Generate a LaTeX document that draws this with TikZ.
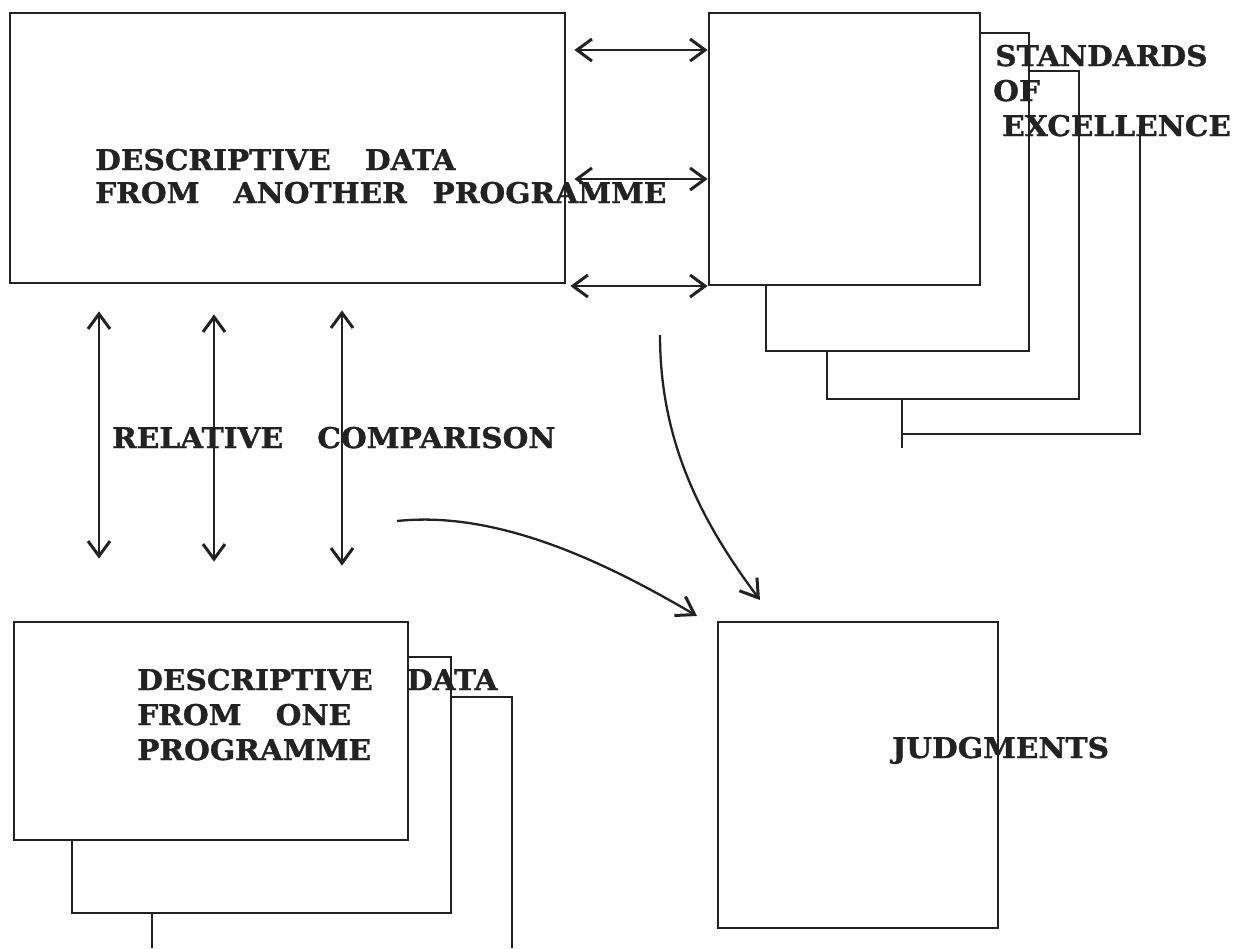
\documentclass[tikz,border=0pt]{standalone}
\usepackage{fontspec}
\newfontfamily\labelface[FakeStretch=1.04,FakeBold=1.1]{DejaVu Serif}
\usetikzlibrary{arrows.meta}
\definecolor{ink}{RGB}{34,34,34}
\newcommand\wgap{\hspace{1.2em}}
\tikzset{
  barb/.tip={Straight Barb[length=15pt,width=22pt,line width=3pt]},
  bigbarb/.tip={Straight Barb[length=17pt,width=22pt,line width=3pt]}}
\begin{document}
\begin{tikzpicture}[x=1pt,y=-1pt,
  panel/.style={draw=ink, line width=2.8pt, inner sep=0pt},
  outline/.style={draw=ink, line width=2.8pt},
  lbl/.style={font=\labelface\bfseries\fontsize{28.5}{34}\selectfont, text=ink, inner sep=0pt, anchor=base west},
  biarrow/.style={draw=ink, line width=2.3pt, barb-barb},
  flow/.style={draw=ink, line width=2.3pt, -bigbarb}]
\useasboundingbox (0,0) rectangle (1237,948);

% main boxes
\node[panel, minimum width=555pt, minimum height=270pt] (source) at (287.5,148) {};
\node[panel, minimum width=271pt, minimum height=272pt] (standard) at (844.5,149) {};
\node[panel, minimum width=394pt, minimum height=218pt] (local) at (211,731) {};
\node[panel, minimum width=280pt, minimum height=306pt] (judge) at (858,775) {};

% stacked sheets behind the standards box
\draw[outline] (standard.east |- 0,33) -- (1029,33) -- (1029,351) -- (766,351) -- (standard.south -| 766,0);
\draw[outline] (1029,71) -- (1079,71) -- (1079,399) -- (827,399) -- (827,351);
\draw[outline] (1140,126) -- (1140,434) -- (902,434);
\draw[outline] (902,399) -- (902,448);

% stacked sheets behind the single-programme box
\draw[outline] (local.east |- 0,657) -- (451,657) -- (451,913) -- (72,913) -- (local.south -| 72,0);
\draw[outline] (451,697) -- (512,697) -- (512,948);
\draw[outline] (152,913) -- (152,948);

% exchanges between the two upper boxes
\draw[biarrow, shorten <=8pt] (source.east |- 0,50) -- (standard.west |- 0,50);
\draw[biarrow, shorten <=8pt] (source.east |- 0,179) -- (standard.west |- 0,179);
\draw[biarrow, shorten <=4pt] (source.east |- 0,286) -- (standard.west |- 0,286);

% relative comparison arrows
\draw[biarrow, shorten <=27pt, shorten >=62pt] (source.south -| 99,0) -- (local.north -| 99,0);
\draw[biarrow, shorten <=30pt, shorten >=59pt] (source.south -| 214,0) -- (local.north -| 214,0);
\draw[biarrow, shorten <=26pt, shorten >=55pt] (source.south -| 342,0) -- (local.north -| 342,0);

% flows into the judgments
\coordinate (fromcmp) at (397,521);
\coordinate (fromstd) at (660,335);
\coordinate (intoj1) at (697,616);
\coordinate (intoj2) at (760,600);
\draw[flow] (fromcmp) .. controls (500,510) and (610,565) .. (intoj1);
\draw[flow] (fromstd) .. controls (660,440) and (700,520) .. (intoj2);

% labels
\node[lbl] (srcA) at (95,170) {DESCRIPTIVE\wgap DATA};
\node[lbl] (srcB) at (95,203) {FROM\wgap ANOTHER\hspace{0.9em}PROGRAMME};
\node[lbl] (rel) at (112,448) {RELATIVE\wgap COMPARISON};
\node[lbl] (stdA) at (995,66) {STANDARDS};
\node[lbl] (stdB) at (993,101) {OF};
\node[lbl] (stdC) at (1002,136) {EXCELLENCE};
\node[lbl] (locA) at (137,690) {DESCRIPTIVE\wgap DATA};
\node[lbl] (locB) at (137,725) {FROM\wgap ONE};
\node[lbl] (locC) at (137,760) {PROGRAMME};
\node[lbl] (jud) at (892,758) {JUDGMENTS};
\end{tikzpicture}
\end{document}
